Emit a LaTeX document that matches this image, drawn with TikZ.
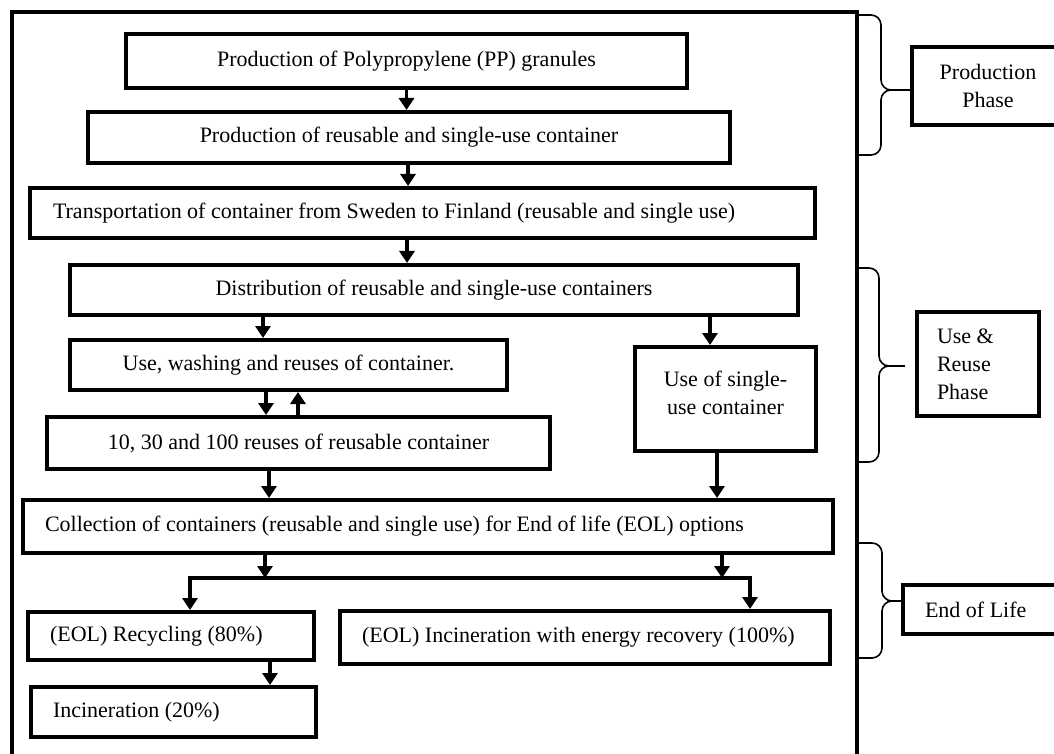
\documentclass[tikz,border=0pt]{standalone}
\usepackage{fontspec}
\setmainfont{Liberation Serif}
\usetikzlibrary{shapes, arrows.meta, positioning}

\begin{document}
\begin{tikzpicture}[x=0.5pt, y=-0.5pt,
  box/.style={draw, line width=2pt, font=\fontsize{11}{14}\selectfont, inner sep=0pt},
  lbox/.style={box, align=flush left, inner xsep=11pt},
  flow/.style={-{Triangle[length=6pt, width=7.5pt]}, line width=1.6pt},
  brace/.style={line width=0.8pt, rounded corners=5pt}]
  \path[use as bounding box] (0,0) rectangle (1054,754);
  \clip (0,0) rectangle (1054,754);
  \draw[line width=2pt] (12,12) rectangle (857,780);

  \node[box, minimum width=280.5pt, minimum height=27pt] (PP) at (406.5,61) {Production of Polypropylene (PP) granules};
  \node[box, minimum width=321pt, minimum height=25.5pt] (PR) at (409,137.5) {Production of reusable and single-use container};
  \node[lbox, text width=369.5pt, inner xsep=11.5pt, minimum height=25pt] (TR) at (422.5,213) {Transportation of container from Sweden to Finland (reusable and single use)};
  \node[box, minimum width=364pt, minimum height=25pt] (DI) at (434,290) {Distribution of reusable and single-use containers};
  \node[box, minimum width=218.5pt, minimum height=25pt] (UW) at (288.5,365) {Use, washing and reuses of container.};
  \node[box, minimum width=251.5pt, minimum height=26pt] (RU) at (298.5,443) {10, 30 and 100 reuses of reusable container};
  \node[box, align=center, minimum width=90.5pt, minimum height=52pt] (SU) at (725.5,399) {Use of single-\\use container\\[-8pt]\mbox{}};
  \node[lbox, text width=383pt, minimum height=26.5pt] (CO) at (428,526.5) {Collection of containers (reusable and single use) for End of life (EOL) options};
  \node[lbox, text width=121pt, minimum height=24pt] (RE) at (171,636) {(EOL) Recycling (80\%)};
  \node[lbox, text width=223pt, minimum height=26.5pt] (IE) at (585,637.5) {(EOL) Incineration with energy recovery (100\%)};
  \node[lbox, text width=120.5pt, minimum height=25pt] (IN) at (173.5,712) {Incineration (20\%)};

  \node[box, align=center, minimum width=76pt, minimum height=39pt] (PPh) at (988,86) {Production\\Phase};
  \node[lbox, text width=41pt, inner xsep=10pt, minimum height=52pt] (UPh) at (978,364) {Use \&\\Reuse\\Phase};
  \node[lbox, text width=64pt, minimum height=24.5pt] (EPh) at (989,609.5) {End of Life};

  \draw[flow] (PP.south) -- (PP.south |- PR.north);
  \draw[flow] (PR.south -| 408,0) -- (TR.north -| 408,0);
  \draw[flow] (TR.south -| 407,0) -- (DI.north -| 407,0);
  \draw[flow] (DI.south -| 263,0) -- (UW.north -| 263,0);
  \draw[flow] (DI.south -| 710,0) -- (SU.north -| 710,0);
  \draw[flow] (UW.south -| 266,0) -- (RU.north -| 266,0);
  \draw[flow] (RU.north -| 298,0) -- (UW.south -| 298,0);
  \draw[flow] (RU.south -| 269,0) -- (CO.north -| 269,0);
  \draw[flow] (SU.south -| 717,0) -- (CO.north -| 717,0);

  \coordinate (EL) at (190,578);
  \coordinate (ER) at (750,578);
  \draw[flow] (CO.south -| 265,0) -- (EL -| 265,0);
  \draw[flow] (CO.south -| 722,0) -- (ER -| 722,0);
  \draw[flow] (ER -| 470,0) -- (EL) -- (RE.north -| EL);
  \draw[flow] (EL -| 470,0) -- (ER) -- (IE.north -| ER);
  \draw[flow] (RE.south -| 270,0) -- (IN.north -| 270,0);

  \draw[brace] (859,15) -- (881,15) -- (881,90) -- (891,90);
  \draw[brace] (859,155) -- (881,155) -- (881,90) -- (891,90);
  \coordinate (PB) at (891,90);
  \draw[line width=1pt] (PB) -- (PB -| PPh.west);

  \draw[brace] (859,268) -- (879,268) -- (879,366) -- (889,366);
  \draw[brace] (859,462) -- (879,462) -- (879,366) -- (889,366);
  \coordinate (UB) at (889,366);
  \draw[line width=1pt, shorten >=5pt] (UB) -- (UB -| UPh.west);

  \draw[brace] (859,543) -- (882,543) -- (882,601) -- (892,601);
  \draw[brace] (859,658) -- (882,658) -- (882,601) -- (892,601);
  \coordinate (EB) at (892,601);
  \draw[line width=1pt] (EB) -- (EB -| EPh.west);
\end{tikzpicture}
\end{document}
